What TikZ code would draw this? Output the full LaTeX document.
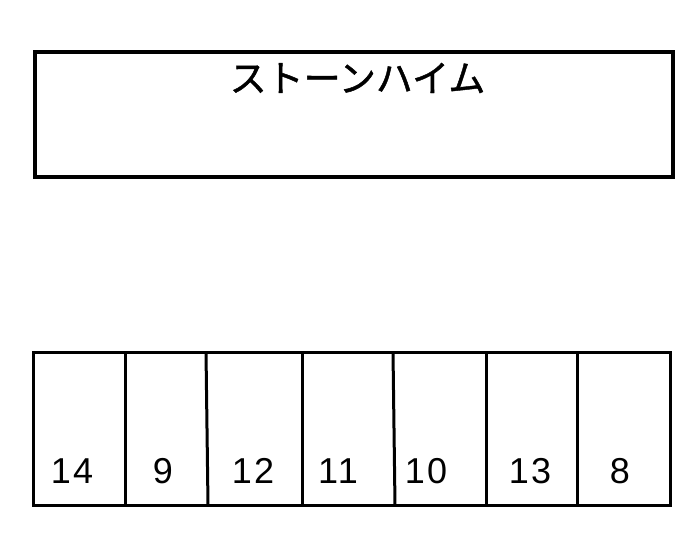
\documentclass[tikz,border=0pt]{standalone}
\usepackage{fontspec}
\setmainfont{Liberation Sans}
\newfontfamily\cjk[FakeBold=1.2]{Noto Sans CJK JP}
\begin{document}
\begin{tikzpicture}[x=1pt,y=-1pt,
  box/.style={draw=black,line width=3.2pt},
  cell/.style={draw=black,line width=3pt},
  num/.style={anchor=base,inner sep=0pt,font=\fontsize{36}{36}\selectfont\addfontfeature{LetterSpace=6}},
  title/.style={anchor=center,inner sep=0pt,font=\cjk\fontsize{37}{37}\selectfont}]
\useasboundingbox (0,0) rectangle (699,536);
\fill[white] (0,0) rectangle (699,536);
% top box
\draw[box] (35,52) rectangle (673,177);
\node[title] (t) at (357.5,78) {ストーンハイム};
% bottom row
\draw[cell] (33,352) rectangle (670,505);
\draw[cell] (125,352) -- (125,505);
\draw[cell] (206,352) -- (208,505);
\draw[cell] (302,352) -- (302,505);
\draw[cell] (393,352) -- (395,505);
\draw[cell] (486,352) -- (486,505);
\draw[cell] (577,352) -- (577,505);
\node[num] (n14) at (72,483) {14};
\node[num] (n9) at (163,483) {9};
\node[num] (n12) at (253,483) {12};
\node[num] (n11) at (338,483) {11};
\node[num] (n10) at (426,483) {10};
\node[num] (n13) at (530,483) {13};
\node[num] (n8) at (620,483) {8};
\end{tikzpicture}
\end{document}
